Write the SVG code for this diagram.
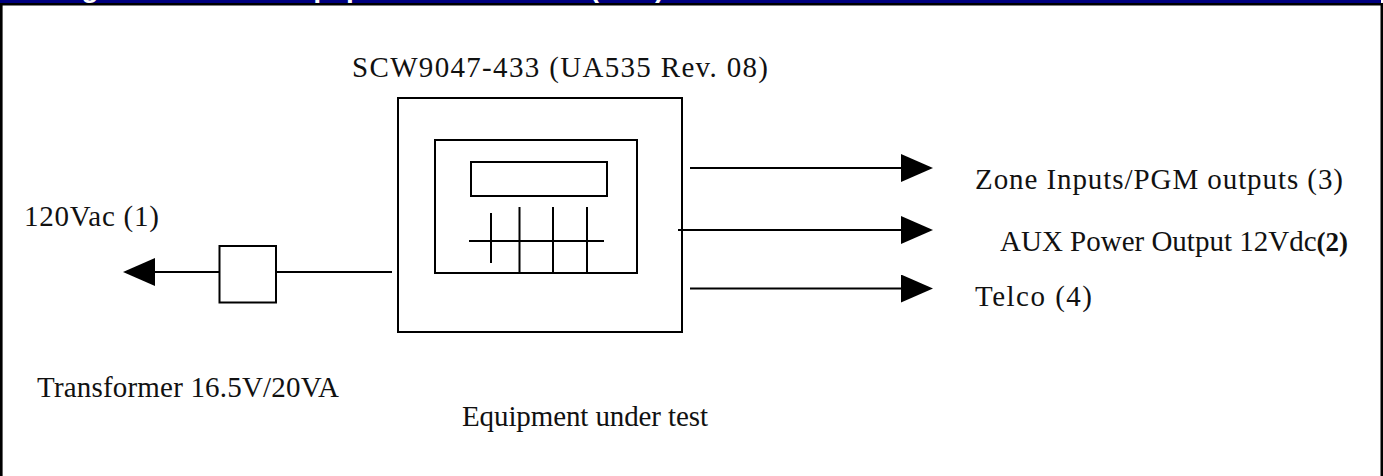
<svg xmlns="http://www.w3.org/2000/svg" width="1383" height="476" viewBox="0 0 1383 476">
  <style>
    .ln { fill: none; stroke: #000; stroke-width: 2; }
    .lbl { font-family: "Liberation Serif", "Times New Roman", serif; font-size: 29px; fill: #111; }
    .hdr { font-family: "Liberation Sans", Arial, sans-serif; font-size: 28px; font-weight: bold; fill: #fff; }
  </style>
  <defs>
    <marker id="head" viewBox="0 0 32 28" markerUnits="userSpaceOnUse" markerWidth="32" markerHeight="28" refX="0" refY="14" orient="auto">
      <path d="M0,0 L32,14 L0,28 Z" fill="#000"/>
    </marker>
  </defs>
  <rect width="1383" height="476" fill="#fff"/>
  <g id="header">
    <rect x="0" y="0" width="1381" height="3.5" fill="#00007f"/>
    <text class="hdr" x="10" y="-3.5">Configuration of the Equipment Under Test (EUT)</text>
    <path d="M1.3,476 V4.3 H1381.8 V476" fill="none" stroke="#000" stroke-width="2.6"/>
  </g>
  <g id="eut">
    <rect class="ln" x="398" y="98" width="284" height="234"/>
    <rect class="ln" x="435" y="140" width="202" height="133"/>
    <rect class="ln" x="471" y="162" width="136" height="34" stroke-width="2.4"/>
    <path class="ln" d="M469,241 H604 M491,213 V263 M519.5,207 V273 M553,207 V273 M587,207 V273"/>
    <text class="lbl" x="352" y="77" font-size="31" textLength="416">SCW9047-433 (UA535 Rev. 08)</text>
    <text class="lbl" x="462" y="426" textLength="246">Equipment under test</text>
  </g>
  <g id="transformer">
    <rect class="ln" x="219.5" y="246" width="56.5" height="56.5"/>
    <text class="lbl" x="37" y="397" textLength="302">Transformer 16.5V/20VA</text>
  </g>
  <g id="mains">
    <text class="lbl" x="24" y="226" textLength="135">120Vac (1)</text>
  </g>
  <g id="zone-outputs">
    <text class="lbl" x="975" y="189" textLength="368">Zone Inputs/PGM outputs (3)</text>
  </g>
  <g id="aux-power">
    <text class="lbl" x="1000" y="251">AUX Power Output 12Vdc<tspan font-weight="bold" font-size="27">(2)</tspan></text>
  </g>
  <g id="telco">
    <text class="lbl" x="975" y="306" textLength="117">Telco (4)</text>
  </g>
  <g id="connectors">
    <path class="ln" d="M276,272 H392"/>
    <path class="ln" d="M219.5,272 H155" marker-end="url(#head)"/>
    <path class="ln" d="M690,168 H901" marker-end="url(#head)"/>
    <path class="ln" d="M678,230 H901" stroke-width="2.6" marker-end="url(#head)"/>
    <path class="ln" d="M690,288.5 H901" marker-end="url(#head)"/>
  </g>
</svg>
